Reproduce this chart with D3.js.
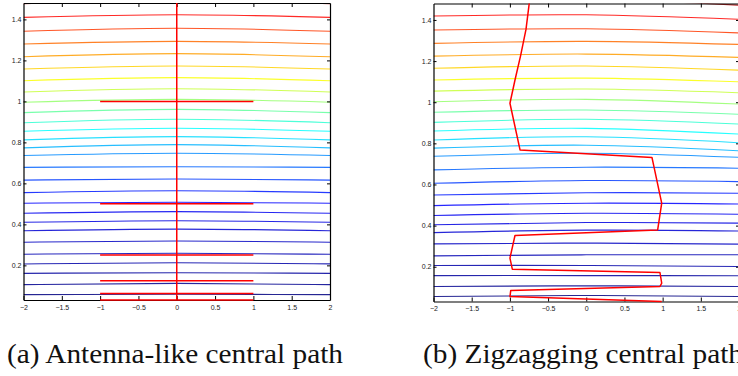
<!DOCTYPE html>
<html>
<head>
<meta charset="utf-8">
<script src="https://cdn.jsdelivr.net/npm/d3@7"></script>
<style>
  body { margin: 0; background: #fff; }
  svg { display: block; }
</style>
</head>
<body>
<div id="chart"></div>
<script>
// ---- data ----
var xTicks = [-2, -1.5, -1, -0.5, 0, 0.5, 1, 1.5, 2];
var yTicks = [0.2, 0.4, 0.6, 0.8, 1, 1.2, 1.4];
var xDomain = [-2, 2];
var yDomain = [0.031, 1.48];

// contour lines, listed top to bottom; shade = normalised level for the colormap
var levelShade = [0.95, 0.87, 0.82, 0.77, 0.72, 0.67, 0.62, 0.57, 0.52, 0.47, 0.42, 0.375, 0.34, 0.30,
                  0.26, 0.22, 0.18, 0.15, 0.125, 0.11, 0.095, 0.08, 0.065, 0.05, 0.04, 0.03, 0.015, 0.0];
var contourX = [-2, 0, 2];

// (a) symmetric contours: value at x=-2 (= value at x=2) and at x=0
var edgeA = [1.477, 1.410, 1.342, 1.280, 1.218, 1.158, 1.101, 1.046, 0.996, 0.945, 0.896, 0.854, 0.812, 0.773,
             0.736, 0.678, 0.616, 0.555, 0.503, 0.454, 0.410, 0.369, 0.313, 0.254, 0.207, 0.161, 0.106, 0.057];
var midA  = [1.490, 1.423, 1.357, 1.293, 1.233, 1.173, 1.116, 1.062, 1.010, 0.961, 0.913, 0.869, 0.828, 0.789,
             0.747, 0.681, 0.621, 0.564, 0.508, 0.462, 0.418, 0.377, 0.319, 0.259, 0.213, 0.164, 0.112, 0.059];

// (b) contours at x=-2, 0, 2
var leftB  = [1.487, 1.419, 1.351, 1.286, 1.224, 1.165, 1.108, 1.054, 1.002, 0.951, 0.902, 0.860, 0.816, 0.777,
              0.737, 0.671, 0.606, 0.549, 0.497, 0.449, 0.404, 0.366, 0.311, 0.253, 0.206, 0.157, 0.104, 0.055];
var midB   = [1.500, 1.425, 1.357, 1.296, 1.234, 1.176, 1.117, 1.064, 1.014, 0.962, 0.917, 0.873, 0.832, 0.791,
              0.752, 0.684, 0.619, 0.560, 0.509, 0.460, 0.415, 0.378, 0.315, 0.258, 0.206, 0.157, 0.107, 0.060];
var rightB = [1.472, 1.403, 1.337, 1.281, 1.218, 1.156, 1.099, 1.046, 0.991, 0.941, 0.894, 0.845, 0.803, 0.764,
              0.732, 0.679, 0.614, 0.557, 0.505, 0.455, 0.412, 0.374, 0.310, 0.258, 0.201, 0.156, 0.104, 0.055];

// (a) antenna path: a stem at x=0 plus rungs from x=-1 to x=1
var stemX = 0;
var rungX = [-1, 1];
var rungY = [1, 0.5, 0.25, 0.125, 0.0625, 0.03125];

// (b) zigzag path, top to bottom
var zigX = [-0.740, -0.789, -0.858, -0.933, -0.999, -0.867, 0.861, 0.988, 0.935, -0.933, -0.999, -0.968,
            0.965, 0.988, 0.965, -0.989, -0.999, 0.988];
var zigY = [1.500, 1.354, 1.229, 1.108, 0.995, 0.768, 0.731, 0.509, 0.379, 0.352, 0.242, 0.188,
            0.172, 0.120, 0.104, 0.084, 0.055, 0.031];

var captions = ["(a) Antenna-like central path", "(b) Zigzagging central path"];

// ---- drawing ----
var svgWidth = 738, svgHeight = 376;
var svg = d3.select("#chart").append("svg")
    .attr("width", svgWidth)
    .attr("height", svgHeight);

function jet(t) {
  var c = function (v) { return Math.round(255 * Math.max(0, Math.min(1, v))); };
  return d3.rgb(c(Math.min(4 * t - 1.5, -4 * t + 4.5)),
                c(Math.min(4 * t - 0.5, -4 * t + 3.5)),
                c(Math.min(4 * t + 0.5, -4 * t + 2.5))).toString();
}

function fmt(d) { return (d < 0 ? "\u2212" : "") + Math.abs(d); }

var panels = [
  { id: "a", xr: [23.5, 330], yr: [300, 3], capX: 7, capLen: 336,
    contours: levelShade.map(function (s, i) { return [edgeA[i], midA[i], edgeA[i]]; }) },
  { id: "b", xr: [433.5, 739], yr: [301.5, 3.5], capX: 423, capLen: 320,
    contours: levelShade.map(function (s, i) { return [leftB[i], midB[i], rightB[i]]; }) }
];

panels.forEach(function (p, pi) {
  var x = d3.scaleLinear().domain(xDomain).range(p.xr);
  var y = d3.scaleLinear().domain(yDomain).range(p.yr);
  var g = svg.append("g");

  // clip for contours (plot box) and a looser one for the red path
  g.append("clipPath").attr("id", "clip-" + p.id)
    .append("rect")
    .attr("x", p.xr[0]).attr("y", p.yr[1])
    .attr("width", p.xr[1] - p.xr[0]).attr("height", p.yr[0] - p.yr[1]);
  g.append("clipPath").attr("id", "clipr-" + p.id)
    .append("rect")
    .attr("x", p.xr[0] - 2).attr("y", p.yr[1])
    .attr("width", p.xr[1] - p.xr[0] + 4).attr("height", p.yr[0] - p.yr[1] + 3);

  var plot = g.append("g").attr("clip-path", "url(#clip-" + p.id + ")");

  // contour lines
  var curve = d3.line()
      .x(function (d) { return x(d[0]); })
      .y(function (d) { return y(d[1]); })
      .curve(d3.curveNatural);

  plot.selectAll("path.contour")
    .data(p.contours)
    .enter().append("path")
    .attr("class", "contour")
    .attr("d", function (vals) { return curve(contourX.map(function (cx, k) { return [cx, vals[k]]; })); })
    .attr("fill", "none")
    .attr("stroke", function (d, i) { return jet(levelShade[i]); })
    .attr("stroke-opacity", 0.85)
    .attr("stroke-width", 1.1);

  // box axes with inward ticks
  var xInner = xTicks.slice(1, -1);
  g.append("g").attr("transform", "translate(0," + p.yr[0] + ")")
    .call(d3.axisBottom(x).tickValues(xTicks).tickFormat(fmt).tickSizeInner(-4).tickSizeOuter(0).tickPadding(5));
  g.append("g").attr("transform", "translate(0," + p.yr[1] + ")")
    .call(d3.axisTop(x).tickValues(xInner).tickFormat("").tickSizeInner(-4).tickSizeOuter(0));
  g.append("g").attr("transform", "translate(" + p.xr[0] + ",0)")
    .call(d3.axisLeft(y).tickValues(yTicks).tickFormat(fmt).tickSizeInner(-3).tickSizeOuter(0).tickPadding(2));
  g.append("g").attr("transform", "translate(" + p.xr[1] + ",0)")
    .call(d3.axisRight(y).tickValues(yTicks).tickFormat("").tickSizeInner(-3).tickSizeOuter(0));

  g.selectAll(".domain").attr("stroke", "#000").attr("stroke-width", 1.2);
  g.selectAll(".tick line").attr("stroke", "#000");
  g.selectAll(".tick text")
    .attr("font-family", "'Liberation Sans', Arial, sans-serif")
    .attr("font-size", 7)
    .attr("fill", "#222");

  // central path, drawn over the axes
  var line = d3.line()
      .x(function (d) { return x(d[0]); })
      .y(function (d) { return y(d[1]); });
  var red = g.append("g").attr("clip-path", "url(#clipr-" + p.id + ")");

  if (p.id === "a") {
    red.append("path")
      .attr("d", line([[stemX, yDomain[0]], [stemX, yDomain[1]]]))
      .attr("fill", "none").attr("stroke", "#ff0000").attr("stroke-width", 1.5);
    red.selectAll("path.rung")
      .data(rungY)
      .enter().append("path")
      .attr("class", "rung")
      .attr("d", function (v) { return line([[rungX[0], v], [rungX[1], v]]); })
      .attr("fill", "none").attr("stroke", "#ff0000").attr("stroke-width", 1.5);
  } else {
    red.append("path")
      .attr("d", line(zigX.map(function (v, i) { return [v, zigY[i]]; })))
      .attr("fill", "none").attr("stroke", "#ff0000").attr("stroke-width", 1.5)
      .attr("stroke-linejoin", "round");
  }

  // caption
  svg.append("text")
    .attr("x", p.capX).attr("y", 363)
    .attr("font-family", "'Liberation Serif', 'DejaVu Serif', 'Times New Roman', serif")
    .attr("font-size", 27)
    .attr("fill", "#111")
    .attr("textLength", p.capLen)
    .attr("lengthAdjust", "spacingAndGlyphs")
    .text(captions[pi]);
});
</script>
</body>
</html>
